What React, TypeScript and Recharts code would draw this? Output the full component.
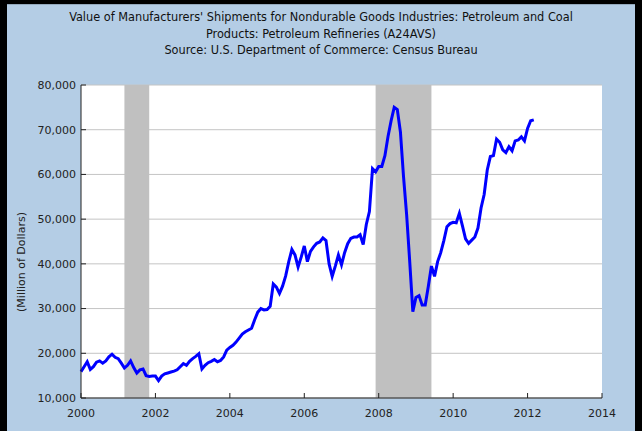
import React from 'react';
import { LineChart, Line, XAxis, YAxis, CartesianGrid, ReferenceArea } from 'recharts';

const titleLines = [
  "Value of Manufacturers' Shipments for Nondurable Goods Industries: Petroleum and Coal",
  'Products: Petroleum Refineries (A24AVS)',
  'Source: U.S. Department of Commerce: Census Bureau',
];
const yAxisLabel = '(Million of Dollars)';

const startYear = 2000;
const values2000 = [15900, 17000, 18100, 16400, 17000, 18000, 18300, 17800, 18300, 19200, 19800, 19100];
const values2001 = [18800, 17800, 16700, 17300, 18300, 16800, 15600, 16300, 16500, 15000, 14800, 14900];
const values2002 = [14900, 13900, 14900, 15400, 15600, 15800, 16000, 16300, 17000, 17700, 17300, 18200];
const values2003 = [18800, 19300, 19900, 16500, 17300, 17900, 18200, 18600, 18100, 18400, 19200, 20700];
const values2004 = [21300, 21800, 22500, 23400, 24300, 24800, 25200, 25600, 27500, 29200, 30000, 29700];
const values2005 = [29800, 30500, 35500, 34800, 33400, 35000, 37300, 40500, 43200, 42000, 39300, 41500];
const values2006 = [44000, 40500, 42800, 43800, 44600, 44900, 45800, 45200, 40000, 37200, 39500, 42000];
const values2007 = [39800, 42500, 44500, 45700, 46000, 46000, 46500, 44300, 48800, 51700, 61300, 60600];
const values2008 = [61800, 61800, 64200, 68500, 72000, 75000, 74500, 69500, 59500, 51000, 40500, 29300];
const values2009 = [32500, 32900, 30800, 30800, 35000, 39500, 37200, 40500, 42500, 45200, 48300, 49000];
const values2010 = [49300, 49200, 51300, 48500, 45600, 44600, 45300, 46000, 48000, 52500, 55500, 61000];
const values2011 = [64000, 64200, 67900, 67200, 65500, 64900, 66200, 65300, 67500, 67700, 68400, 67500];
const values2012 = [70300, 72000, 72200];

const yearlyValues = [
  values2000, values2001, values2002, values2003, values2004, values2005, values2006,
  values2007, values2008, values2009, values2010, values2011, values2012,
];

// recession periods as [start, end] in fractional years (month starts)
const recessionStarts = [2001 + 2 / 12, 2007 + 11 / 12];
const recessionEnds = [2001 + 10 / 12, 2009 + 5 / 12];

const xTicks = [2000, 2002, 2004, 2006, 2008, 2010, 2012, 2014];
const yTicks = [10000, 20000, 30000, 40000, 50000, 60000, 70000, 80000];

const data = yearlyValues.flatMap((vals, yi) =>
  vals.map((v, mi) => ({ t: startYear + yi + mi / 12, value: v }))
);

const fmt = (v: number) => v.toLocaleString('en-US');

export default function App() {
  return (
    <div style={{ position: 'absolute', left: 0, top: 0, width: 642, height: 431, background: '#000', overflow: 'hidden' }}>
      <div
        style={{
          position: 'absolute',
          left: 7,
          top: 4,
          width: 628,
          height: 427,
          background: '#b4cde5',
          borderTop: '1px solid #94a9bd',
          boxSizing: 'border-box',
        }}
      />
      {titleLines.map((line, i) => (
        <div
          key={i}
          style={{
            position: 'absolute',
            left: 7,
            width: 628,
            top: 8 + i * 16.5,
            lineHeight: '17px',
            textAlign: 'center',
            fontFamily: '"DejaVu Sans Condensed", "DejaVu Sans", sans-serif',
            fontSize: 12.6,
            color: '#111',
            whiteSpace: 'nowrap',
          }}
        >
          {line}
        </div>
      ))}
      <div style={{ position: 'absolute', left: 0, top: 0 }}>
        <LineChart
          width={642}
          height={431}
          data={data}
          margin={{ top: 85, right: 40, bottom: 3, left: 21 }}
        >
          <CartesianGrid horizontal vertical={false} stroke="#c4c4c4" fill="#ffffff" fillOpacity={1} />
          {recessionStarts.map((s, i) => (
            <ReferenceArea
              key={i}
              x1={s}
              x2={recessionEnds[i]}
              fill="#c0c0c0"
              fillOpacity={1}
              stroke="none"
            />
          ))}
          <XAxis
            dataKey="t"
            type="number"
            domain={[2000, 2014]}
            ticks={xTicks}
            height={30}
            tickSize={-5}
            tickMargin={16}
            stroke="#222"
            axisLine={{ stroke: '#222' }}
            tickLine={{ stroke: '#222' }}
            tick={{ fontFamily: 'DejaVu Sans', fontSize: 11, fill: '#222' }}
            interval={0}
          />
          <YAxis
            type="number"
            domain={[10000, 80000]}
            ticks={yTicks}
            width={60}
            tickSize={-5}
            tickMargin={10}
            tickFormatter={fmt}
            stroke="#222"
            axisLine={{ stroke: '#222' }}
            tickLine={{ stroke: '#222' }}
            tick={{ fontFamily: 'DejaVu Sans', fontSize: 11, fill: '#222' }}
            interval={0}
            label={{
              content: () => (
                <text
                  x={25}
                  y={262}
                  transform="rotate(-90 25 262)"
                  textAnchor="middle"
                  fontFamily="DejaVu Sans"
                  fontSize={11}
                  fill="#222"
                >
                  {yAxisLabel}
                </text>
              ),
            }}
          />
          <Line
            type="linear"
            dataKey="value"
            stroke="#0000ff"
            strokeWidth={3}
            dot={false}
            isAnimationActive={false}
          />
        </LineChart>
      </div>
    </div>
  );
}
